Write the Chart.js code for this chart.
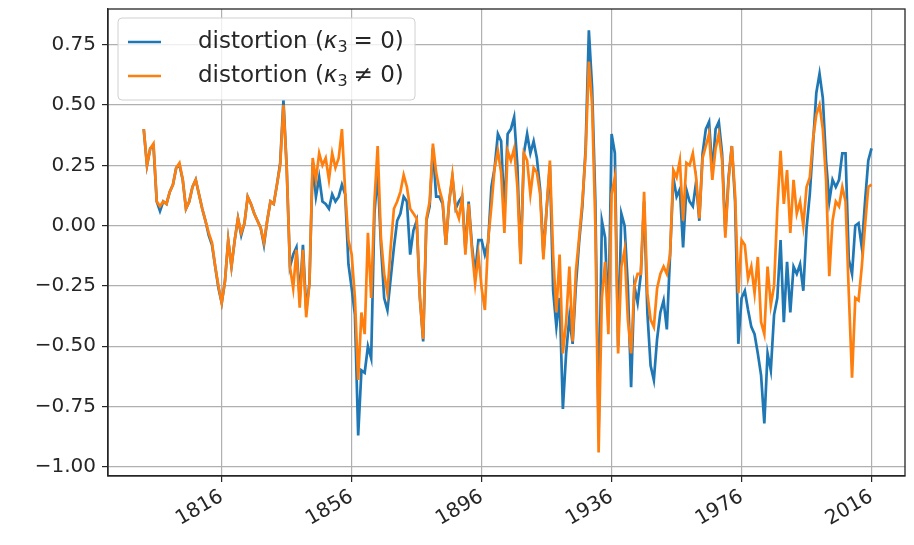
<!DOCTYPE html>
<html>
<head>
<meta charset="utf-8">
<script src="https://cdn.jsdelivr.net/npm/chart.js@4/dist/chart.umd.min.js"></script>
<style>
    html, body { margin: 0; padding: 0; background: #fff; }
    #wrap { width: 914px; height: 545px; }
</style>
</head>
<body>
<div id="wrap"><canvas id="distChart" width="914" height="545"></canvas></div>
<script>
// yearly values, first year 1792
const START_YEAR = 1792;
const X_TICKS = [1816, 1856, 1896, 1936, 1976, 2016];
const Y_TICKS = [-1.0, -0.75, -0.5, -0.25, 0.0, 0.25, 0.5, 0.75];

// distortion, kappa3 = 0 (blue)
const kappaZero = [
    0.40, 0.25, 0.32, 0.33, 0.10, 0.06, 0.10, 0.09, 0.14, 0.17,
    0.24, 0.25, 0.19, 0.07, 0.10, 0.16, 0.19, 0.13, 0.07, 0.02,
    -0.04, -0.08, -0.17, -0.26, -0.32, -0.23, -0.06, -0.17, -0.06, 0.03,
    -0.04, 0.01, 0.12, 0.09, 0.05, 0.02, -0.01, -0.08, 0.02, 0.10,
    0.09, 0.17, 0.26, 0.52, 0.24, -0.17, -0.12, -0.09, -0.30, -0.08,
    -0.35, -0.24, 0.26, 0.12, 0.20, 0.10, 0.09, 0.07, 0.13, 0.10,
    0.12, 0.17, 0.13, -0.16, -0.26, -0.37, -0.87, -0.60, -0.61, -0.50,
    -0.55, 0.05, 0.22, -0.08, -0.30, -0.35, -0.22, -0.09, 0.02, 0.05,
    0.12, 0.10, -0.12, -0.02, 0.02, -0.30, -0.48, 0.02, 0.08, 0.32,
    0.12, 0.12, 0.09, -0.08, 0.10, 0.20, 0.07, 0.10, 0.12, -0.10,
    0.10, -0.08, -0.20, -0.06, -0.06, -0.12, -0.07, 0.16, 0.24, 0.38,
    0.35, 0.05, 0.38, 0.40, 0.45, 0.25, -0.15, 0.30, 0.38, 0.30,
    0.35, 0.28, 0.15, -0.12, 0.07, 0.25, -0.27, -0.42, -0.30, -0.76,
    -0.53, -0.38, -0.49, -0.25, -0.07, 0.08, 0.32, 0.81, 0.57, 0.10,
    -0.85, 0.02, -0.05, -0.40, 0.38, 0.30, -0.50, 0.05, 0.00, -0.25,
    -0.67, -0.25, -0.32, -0.20, 0.10, -0.36, -0.58, -0.64, -0.47, -0.36,
    -0.31, -0.43, -0.12, 0.20, 0.12, 0.15, -0.09, 0.15, 0.10, 0.08,
    0.18, 0.02, 0.30, 0.40, 0.43, 0.22, 0.40, 0.43, 0.30, -0.03,
    0.20, 0.33, 0.10, -0.49, -0.30, -0.27, -0.35, -0.42, -0.45, -0.53,
    -0.62, -0.82, -0.53, -0.60, -0.37, -0.30, -0.06, -0.40, -0.15, -0.36,
    -0.17, -0.20, -0.16, -0.27, -0.01, 0.13, 0.34, 0.55, 0.63, 0.53,
    0.27, 0.10, 0.19, 0.16, 0.19, 0.30, 0.30, -0.14, -0.20, 0.00,
    0.01, -0.09, 0.10, 0.27, 0.32
];

// distortion, kappa3 != 0 (orange)
const kappaNonZero = [
    0.40, 0.25, 0.32, 0.34, 0.10, 0.08, 0.10, 0.09, 0.14, 0.17,
    0.24, 0.26, 0.19, 0.07, 0.10, 0.16, 0.19, 0.13, 0.07, 0.02,
    -0.03, -0.07, -0.17, -0.25, -0.32, -0.23, -0.06, -0.17, -0.06, 0.03,
    -0.03, 0.01, 0.12, 0.09, 0.05, 0.02, -0.01, -0.07, 0.02, 0.10,
    0.09, 0.17, 0.25, 0.50, 0.24, -0.17, -0.26, -0.10, -0.34, -0.10,
    -0.38, -0.24, 0.28, 0.19, 0.30, 0.25, 0.28, 0.19, 0.30, 0.24,
    0.28, 0.40, 0.14, -0.06, -0.12, -0.30, -0.64, -0.36, -0.45, -0.03,
    -0.30, 0.10, 0.33, -0.05, -0.20, -0.28, -0.09, 0.07, 0.10, 0.14,
    0.21, 0.16, 0.07, 0.05, 0.03, -0.30, -0.47, 0.03, 0.10, 0.34,
    0.22, 0.15, 0.10, -0.08, 0.10, 0.21, 0.07, 0.03, 0.12, -0.12,
    0.09, -0.10, -0.24, -0.12, -0.26, -0.35, -0.06, 0.08, 0.24, 0.31,
    0.22, -0.03, 0.31, 0.27, 0.32, 0.16, -0.16, 0.30, 0.27, 0.13,
    0.24, 0.22, 0.13, -0.14, 0.07, 0.27, -0.12, -0.36, -0.12, -0.53,
    -0.40, -0.17, -0.48, -0.19, -0.05, 0.10, 0.30, 0.68, 0.50, 0.00,
    -0.94, -0.30, -0.15, -0.45, 0.13, 0.20, -0.53, -0.17, -0.10, -0.39,
    -0.53, -0.25, -0.20, -0.20, 0.14, -0.28, -0.39, -0.42, -0.26, -0.20,
    -0.17, -0.20, -0.12, 0.23, 0.20, 0.27, 0.02, 0.26, 0.25, 0.30,
    0.20, 0.03, 0.28, 0.33, 0.38, 0.19, 0.32, 0.38, 0.27, -0.05,
    0.19, 0.33, 0.13, -0.28, -0.06, -0.08, -0.22, -0.17, -0.28, -0.13,
    -0.40, -0.45, -0.17, -0.33, -0.25, 0.07, 0.31, 0.09, 0.23, -0.03,
    0.19, 0.05, 0.10, 0.00, 0.16, 0.20, 0.36, 0.46, 0.50, 0.40,
    0.19, -0.21, 0.02, 0.10, 0.08, 0.16, 0.10, -0.28, -0.63, -0.30,
    -0.31, -0.17, 0.00, 0.16, 0.17
];

const LEGEND_EQ = ['= 0)', '\u2260 0)'];
const BLUE = '#1f77b4';
const ORANGE = '#ff7f0e';
const FONT = '"DejaVu Sans", sans-serif';

function toPoints(values) {
    return values.map((v, i) => ({ x: START_YEAR + i, y: v }));
}

// legend drawn inside the plot, top-left, like matplotlib
const insideLegend = {
    id: 'insideLegend',
    afterDatasetsDraw(chart) {
        const ctx = chart.ctx;
        const area = chart.chartArea;
        const bx = area.left + 10, by = area.top + 9, bw = 297, bh = 82;
        ctx.save();
        ctx.beginPath();
        ctx.roundRect(bx, by, bw, bh, 4);
        ctx.fillStyle = 'rgba(255,255,255,0.8)';
        ctx.fill();
        ctx.strokeStyle = '#d0d0d0';
        ctx.lineWidth = 1;
        ctx.stroke();

        const colors = [BLUE, ORANGE];
        colors.forEach((c, i) => {
            const y = by + 24 + i * 34;
            ctx.beginPath();
            ctx.moveTo(bx + 10, y);
            ctx.lineTo(bx + 43, y);
            ctx.strokeStyle = c;
            ctx.lineWidth = 2.6;
            ctx.stroke();

            ctx.fillStyle = '#262626';
            ctx.textBaseline = 'middle';
            let x = bx + 80;
            ctx.font = '23px ' + FONT;
            ctx.fillText('distortion (', x, y);
            x += ctx.measureText('distortion (').width;
            ctx.font = 'italic 23px ' + FONT;
            ctx.fillText('\u03ba', x, y);
            x += ctx.measureText('\u03ba').width;
            ctx.font = '16px ' + FONT;
            ctx.fillText('3', x, y + 6);
            x += ctx.measureText('3').width + 6;
            ctx.font = '23px ' + FONT;
            ctx.fillText(LEGEND_EQ[i], x, y);
        });
        ctx.restore();
    }
};

// full box round the plot area
const frameBox = {
    id: 'frameBox',
    afterDraw(chart) {
        const a = chart.chartArea;
        const ctx = chart.ctx;
        ctx.save();
        ctx.strokeStyle = '#262626';
        ctx.lineWidth = 1.3;
        ctx.strokeRect(a.left, a.top, a.right - a.left, a.bottom - a.top);
        ctx.restore();
    }
};

const ctx = document.getElementById('distChart').getContext('2d');
new Chart(ctx, {
    type: 'line',
    data: {
        datasets: [{
            label: 'distortion (\u03ba3 = 0)',
            data: toPoints(kappaZero),
            borderColor: BLUE,
            borderWidth: 2.7,
            pointRadius: 0,
            tension: 0,
            fill: false,
            order: 2
        }, {
            label: 'distortion (\u03ba3 \u2260 0)',
            data: toPoints(kappaNonZero),
            borderColor: ORANGE,
            borderWidth: 2.7,
            pointRadius: 0,
            tension: 0,
            fill: false,
            order: 1
        }]
    },
    options: {
        responsive: false,
        animation: false,
        layout: { padding: { top: 9, right: 9, left: 0, bottom: 0 } },
        plugins: {
            legend: { display: false },
            tooltip: { enabled: false }
        },
        scales: {
            x: {
                type: 'linear',
                min: 1781,
                max: 2026.3,
                afterBuildTicks: s => { s.ticks = X_TICKS.map(v => ({ value: v })); },
                afterFit: s => { s.height = 69; },
                ticks: {
                    minRotation: 30,
                    maxRotation: 30,
                    font: { family: FONT, size: 20 },
                    color: '#262626',
                    callback: v => String(v)
                },
                grid: { color: '#b0b0b0', lineWidth: 1.2, tickLength: 6, tickColor: '#262626' },
                border: { color: '#262626', width: 1.3 }
            },
            y: {
                min: -1.038,
                max: 0.898,
                afterBuildTicks: s => { s.ticks = Y_TICKS.map(v => ({ value: v })); },
                afterFit: s => { s.width = 108; s.paddingTop = 0; s.paddingBottom = 0; },
                ticks: {
                    font: { family: FONT, size: 20 },
                    color: '#262626',
                    padding: 6,
                    callback: v => v.toFixed(2).replace('-', '\u2212')
                },
                grid: { color: '#b0b0b0', lineWidth: 1.2, tickLength: 6, tickColor: '#262626' },
                border: { color: '#262626', width: 1.3 }
            }
        }
    },
    plugins: [insideLegend, frameBox]
});
</script>
</body>
</html>
